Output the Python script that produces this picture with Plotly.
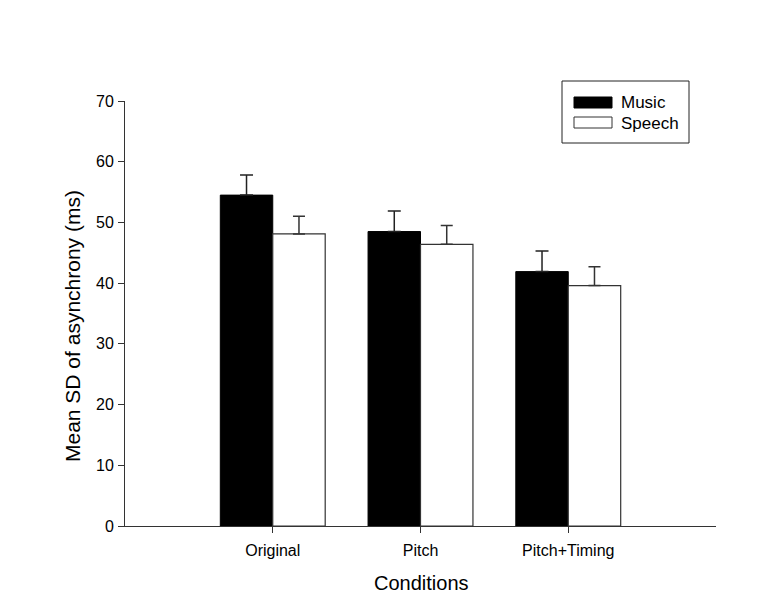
import plotly.graph_objects as go

conditions = ["Original", "Pitch", "Pitch+Timing"]
music = [54.5, 48.5, 41.9]
music_err = [3.3, 3.4, 3.4]
speech = [48.1, 46.4, 39.6]
speech_err = [2.9, 3.1, 3.1]

# page body adds an 8px offset; plot area in page pixels: x 125..716, y 101..526
OFF = 8
W, H = 772 - OFF, 609 - OFF
X0, X1, Y0, Y1 = 125, 716, 101, 526
L, T = X0 - OFF, Y0 - OFF
pw, ph = X1 - X0, Y1 - Y0
R, B = W - L - pw, H - T - ph

def px(x):
    return (x - X0) / pw

def py(y):
    return (Y1 - y) / ph

fig = go.Figure()
fig.add_trace(go.Bar(
    x=conditions, y=music, name="Music",
    marker=dict(color="black", line=dict(color="black", width=1)),
    error_y=dict(type="data", array=music_err, arrayminus=[0]*3, symmetric=False,
                 color="#222", thickness=1.5, width=6.5),
))
fig.add_trace(go.Bar(
    x=conditions, y=speech, name="Speech",
    marker=dict(color="white", line=dict(color="#333", width=1.2)),
    error_y=dict(type="data", array=speech_err, arrayminus=[0]*3, symmetric=False,
                 color="#333", thickness=1.5, width=6),
))

shapes = [
    dict(type="rect", xref="paper", yref="paper", x0=px(562), x1=px(689), y0=py(81), y1=py(143),
         line=dict(color="#222", width=1), fillcolor="white"),
    dict(type="rect", xref="paper", yref="paper", x0=px(574), x1=px(612), y0=py(97), y1=py(108),
         line=dict(color="black", width=1), fillcolor="black"),
    dict(type="rect", xref="paper", yref="paper", x0=px(574), x1=px(612), y0=py(117), y1=py(128),
         line=dict(color="#333", width=1), fillcolor="white"),
]
annotations = [
    dict(text="Music", xref="paper", yref="paper", x=px(619), y=py(102.5), xanchor="left",
         yanchor="middle", showarrow=False, font=dict(size=17, color="black")),
    dict(text="Speech", xref="paper", yref="paper", x=px(619), y=py(123), xanchor="left",
         yanchor="middle", showarrow=False, font=dict(size=17, color="black")),
    dict(text="Conditions", xref="paper", yref="paper", x=px(421), y=py(583), xanchor="center",
         yanchor="middle", showarrow=False, font=dict(size=20, color="black")),
    dict(text="Mean SD of asynchrony (ms)", xref="paper", yref="paper", x=px(72), y=py(326),
         xanchor="center", yanchor="middle", textangle=-90, showarrow=False,
         font=dict(size=21, color="black")),
]

fig.update_layout(
    width=W, height=H,
    margin=dict(l=L, r=R, t=T, b=B),
    paper_bgcolor="white", plot_bgcolor="white",
    barmode="group", bargap=0.29, bargroupgap=0,
    showlegend=False,
    font=dict(family="Liberation Sans, Arial, sans-serif", color="black", size=16),
    shapes=shapes, annotations=annotations,
    xaxis=dict(range=[-1, 3], showline=True, linecolor="#333", linewidth=1,
               ticks="outside", ticklen=6, tickcolor="#333", showgrid=False,
               tickfont=dict(size=16), ticklabelstandoff=4),
    yaxis=dict(range=[0, 70], dtick=10, showline=True, linecolor="#333", linewidth=1,
               ticks="outside", ticklen=6, tickcolor="#333", showgrid=False, zeroline=False,
               tickfont=dict(size=16), ticklabelstandoff=1),
)

fig.write_html("out.html")
